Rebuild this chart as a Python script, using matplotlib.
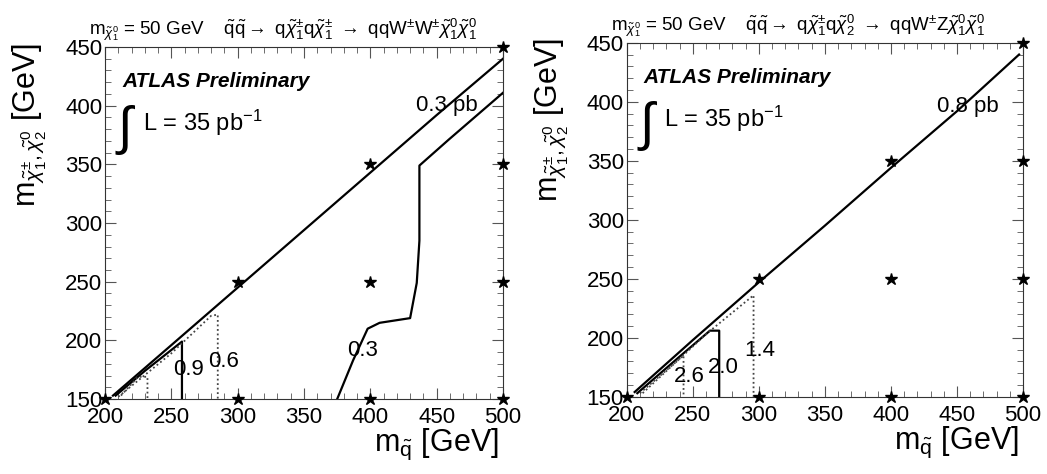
"""
ATLAS 质量平面 上限等高线 (两个衰变道)
左: W±W± 道, 右: W±Z 道
"""
import matplotlib
matplotlib.use('Agg')
import matplotlib.pyplot as plt
from matplotlib.ticker import MultipleLocator

plt.rcParams['font.family'] = ['Liberation Sans', 'DejaVu Sans']
plt.rcParams['mathtext.fontset'] = 'custom'
plt.rcParams['mathtext.rm'] = 'Liberation Sans'
plt.rcParams['mathtext.it'] = 'Liberation Sans:italic'
plt.rcParams['mathtext.bf'] = 'Liberation Sans:bold'
plt.rcParams['mathtext.fallback'] = 'stixsans'

# 信号网格点 (星号)
star_x = [200, 300, 400, 500, 300, 400, 500, 400, 500, 500]
star_y = [150, 150, 150, 150, 250, 250, 250, 350, 350, 450]

# 左图等高线
left_03pb_x = [206, 250, 300, 350, 400, 450, 500]
left_03pb_y = [153, 196, 245, 294, 343, 392, 440]
left_03_x = [375, 387, 398, 407, 430, 435, 437, 437, 459, 500]
left_03_y = [150, 183, 210, 215, 219, 249, 285, 349, 371, 411]
left_09_x = [208, 230, 258, 258]
left_09_y = [153, 174, 199, 150]
left_06_x = [210, 250, 280, 285, 285]
left_06_y = [152, 189, 221, 222, 150]
left_small_x = [212, 225, 232, 232]
left_small_y = [153, 169, 169, 150]

# 右图等高线
right_08pb_x = [206, 250, 300, 350, 400, 450, 497]
right_08pb_y = [154, 198, 247, 295, 344, 392, 440]
right_20_x = [208, 240, 263, 270, 270]
right_20_y = [153, 184, 206, 206, 150]
right_26_x = [210, 243, 243]
right_26_y = [153, 185, 150]
right_14_x = [212, 260, 296, 296]
right_14_y = [153, 203, 236, 150]

# 等高线标签 (文字, x, y)
left_labels = [("0.3 pb", 458, 400), ("0.3", 394, 191), ("0.9", 263, 175), ("0.6", 289, 182)]
right_labels = [("0.8 pb", 458, 396), ("2.6", 247, 167), ("2.0", 273, 175), ("1.4", 301, 189)]

left_title = (r"$\mathrm{m}_{\tilde{\chi}_1^0}$ = 50 GeV    "
              r"$\tilde{\mathrm{q}}\tilde{\mathrm{q}}\rightarrow\ \mathrm{q}\tilde{\chi}_1^{\pm}\mathrm{q}\tilde{\chi}_1^{\pm}"
              r"\ \rightarrow\ \mathrm{qqW}^{\pm}\mathrm{W}^{\pm}\tilde{\chi}_1^0\tilde{\chi}_1^0$")
right_title = (r"$\mathrm{m}_{\tilde{\chi}_1^0}$ = 50 GeV    "
               r"$\tilde{\mathrm{q}}\tilde{\mathrm{q}}\rightarrow\ \mathrm{q}\tilde{\chi}_1^{\pm}\mathrm{q}\tilde{\chi}_2^{0}"
               r"\ \rightarrow\ \mathrm{qqW}^{\pm}\mathrm{Z}\tilde{\chi}_1^0\tilde{\chi}_1^0$")
y_label = r"$\mathrm{m}_{\tilde{\chi}_1^{\pm},\tilde{\chi}_2^0}$ [GeV]"
x_label = r"$\mathrm{m}_{\tilde{\mathrm{q}}}$ [GeV]"


def style_axes(ax):
    ax.set_xlim(200, 500)
    ax.set_ylim(150, 450)
    ax.xaxis.set_major_locator(MultipleLocator(50))
    ax.xaxis.set_minor_locator(MultipleLocator(10))
    ax.yaxis.set_major_locator(MultipleLocator(50))
    ax.yaxis.set_minor_locator(MultipleLocator(10))
    ax.tick_params(which='both', direction='in', top=True, right=True, labelsize=16, color='#555555')
    ax.tick_params(which='major', length=8)
    ax.tick_params(which='minor', length=4)
    ax.tick_params(axis='x', pad=6)
    ax.tick_params(axis='y', pad=2)
    for sp in ax.spines.values():
        sp.set_color('#333333')


def draw_panel(ax, solid, dotted, labels, title):
    style_axes(ax)
    for xs, ys in solid:
        ax.plot(xs, ys, color='black', lw=1.6)
    for xs, ys in dotted:
        ax.plot(xs, ys, color='#444444', lw=1.3, ls=(0, (1, 1.5)))
    for txt, x, y in labels:
        ax.text(x, y, txt, fontsize=16, ha='center', va='center')
    ax.plot(star_x, star_y, ls='none', marker='*', ms=9, color='black', clip_on=False, zorder=5)
    ax.text(0.043, 0.903, "ATLAS Preliminary", transform=ax.transAxes, fontsize=15,
            fontweight='bold', fontstyle='italic', ha='left', va='center')
    ax.text(0.025, 0.765, r"$\int$", transform=ax.transAxes, fontsize=38, ha='left', va='center')
    ax.text(0.095, 0.784, r"L = 35 pb$^{-1}$", transform=ax.transAxes, fontsize=17, ha='left', va='center')
    ax.text(-0.04, 1.035, title, transform=ax.transAxes, fontsize=13.5, ha='left', va='baseline')
    ax.text(-0.236, 1.012, y_label, transform=ax.transAxes, fontsize=22, rotation=90, ha='left', va='top')
    ax.text(0.99, -0.128, x_label, transform=ax.transAxes, fontsize=22, ha='right', va='center')


fig = plt.figure(figsize=(10.47, 4.74), dpi=100)
ax1 = fig.add_axes([0.1003, 0.158, 0.3801, 0.7428])
ax2 = fig.add_axes([0.5986, 0.163, 0.3785, 0.7468])

draw_panel(ax1,
           [(left_03pb_x, left_03pb_y), (left_03_x, left_03_y), (left_09_x, left_09_y)],
           [(left_06_x, left_06_y), (left_small_x, left_small_y)],
           left_labels, left_title)
draw_panel(ax2,
           [(right_08pb_x, right_08pb_y), (right_20_x, right_20_y)],
           [(right_26_x, right_26_y), (right_14_x, right_14_y)],
           right_labels, right_title)

fig.savefig('out.png', dpi=100)
